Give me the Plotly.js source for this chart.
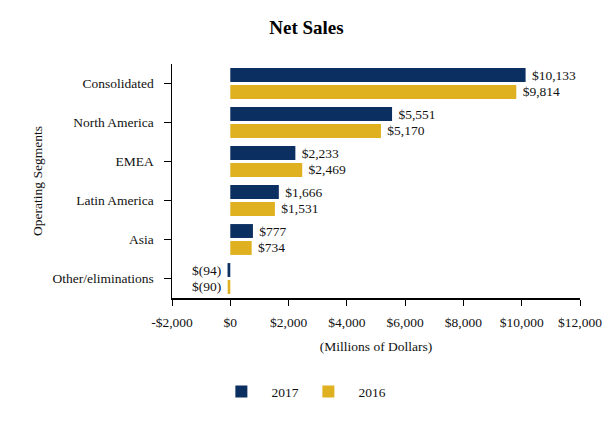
<!DOCTYPE html>
<html><head><meta charset="utf-8">
<script src="https://cdn.plot.ly/plotly-3.0.1.min.js"></script>
<style>html,body{margin:0;padding:0;background:#fff}#chart{width:613px;height:429px}</style>
</head><body><div id="chart"></div>
<script>
const categories = ["Consolidated","North America","EMEA","Latin America","Asia","Other/eliminations"];
const sales2017 = [10133, 5551, 2233, 1666, 777, -94];
const sales2016 = [9814, 5170, 2469, 1531, 734, -90];
const seriesNames = ["2017","2016"];
const xTickVals = [-2000,0,2000,4000,6000,8000,10000,12000];
const xTickText = ["-$2,000","$0","$2,000","$4,000","$6,000","$8,000","$10,000","$12,000"];

const NB = "\u00a0";
function fmt(v){
  const s = Math.abs(v).toLocaleString('en-US');
  return v < 0 ? "$(" + s + ")" + NB : NB + "$" + s;
}
const FONT = "Liberation Serif, Times New Roman, serif";
const FS = 13.5;
const traces = [
  {type:'bar', orientation:'h', name:NB+NB+NB+seriesNames[0], y:categories, x:sales2017,
   text:sales2017.map(fmt), textposition:'outside', cliponaxis:false, constraintext:'none',
   textfont:{family:FONT,size:FS,color:'#111'},
   marker:{color:'#0b2f60', line:{width:0}}, hoverinfo:'none'},
  {type:'bar', orientation:'h', name:NB+NB+NB+seriesNames[1], y:categories, x:sales2016,
   text:sales2016.map(fmt), textposition:'outside', cliponaxis:false, constraintext:'none',
   textfont:{family:FONT,size:FS,color:'#111'},
   marker:{color:'#dfb121', line:{width:0}}, hoverinfo:'none'}
];
const layout = {
  width:613, height:429,
  margin:{l:172, r:33, t:64, b:131},
  paper_bgcolor:'#fff', plot_bgcolor:'#fff',
  font:{family:FONT, size:FS, color:'#111'},
  title:{text:'<b>Net Sales</b>', x:0.5, xanchor:'center', y:0.937, yanchor:'middle',
         font:{family:FONT, size:19, color:'#000'}},
  barmode:'group', bargap:0.13, bargroupgap:0.18,
  xaxis:{range:[-2000,12000], tickvals:xTickVals, ticktext:xTickText,
         showgrid:false, zeroline:false, showline:true, linecolor:'#000', linewidth:1.5,
         ticks:'outside', ticklen:6, tickcolor:'#000', tickwidth:1, ticklabelstandoff:5,
         tickfont:{family:FONT,size:FS,color:'#111'},
         title:{text:'(Millions of Dollars)', standoff:13, font:{family:FONT,size:FS,color:'#111'}}},
  yaxis:{autorange:'reversed', type:'category',
         showgrid:false, zeroline:false, showline:true, linecolor:'#000', linewidth:1.5,
         ticks:'outside', ticklen:7, tickcolor:'#000', tickwidth:1, ticklabelstandoff:7,
         tickfont:{family:FONT,size:FS,color:'#111'},
         title:{text:'Operating Segments', standoff:7, font:{family:FONT,size:FS,color:'#111'}}},
  legend:{orientation:'h', x:0.121, xanchor:'left', y:-0.40, yanchor:'middle',
          font:{family:FONT,size:FS,color:'#111'}, entrywidth:42},
  showlegend:true
};
Plotly.newPlot('chart', traces, layout, {displayModeBar:false, staticPlot:true});
</script></body></html>
